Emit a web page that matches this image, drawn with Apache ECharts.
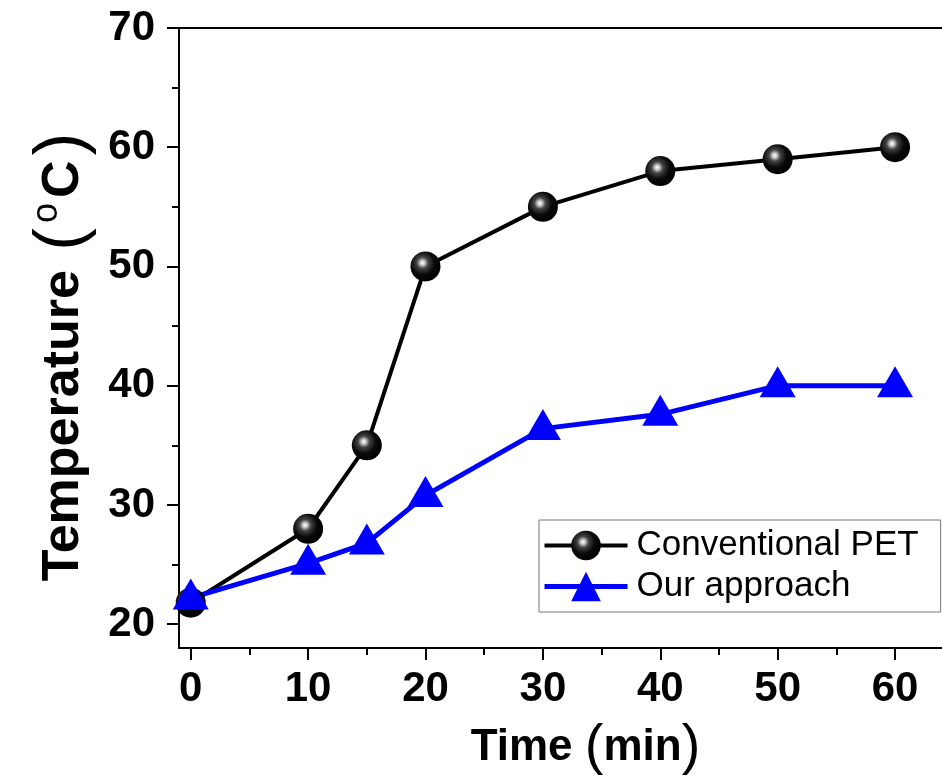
<!DOCTYPE html>
<html>
<head>
<meta charset="utf-8">
<script src="https://cdn.jsdelivr.net/npm/echarts@6/dist/echarts.min.js"></script>
<style>
  html, body { margin: 0; padding: 0; background: #fff; }
  #chart { width: 942px; height: 781px; }
</style>
</head>
<body>
<div id="chart"></div>
<script>
// data
const timeMin = [0, 10, 15, 20, 30, 40, 50, 60];
const conventionalPet = [21.8, 28, 35, 50, 55, 58, 59, 60];
const ourApproach = [22.2, 25.1, 26.8, 30.8, 36.4, 37.6, 40, 40];
const xMajorTicks = [0, 10, 20, 30, 40, 50, 60];
const xMinorTicks = [5, 15, 25, 35, 45, 55];
const yMajorTicks = [20, 30, 40, 50, 60, 70];
const yMinorTicks = [25, 35, 45, 55, 65];

const FONT = "'Liberation Sans', Arial, sans-serif";

function pairs(xs, ys) {
  return xs.map(function (x, i) { return [x, ys[i]]; });
}

// black sphere look of the marker
const sphere = {
  type: 'radial', x: 0.4, y: 0.38, r: 0.6,
  colorStops: [
    { offset: 0, color: '#ffffff' },
    { offset: 0.12, color: '#cfcfcf' },
    { offset: 0.32, color: '#444' },
    { offset: 0.65, color: '#0a0a0a' },
    { offset: 1, color: '#000' }
  ]
};

const chart = echarts.init(document.getElementById('chart'));

const axisLine = { show: true, onZero: false, lineStyle: { color: '#000', width: 2 } };
const tickLabel = { color: '#000', fontFamily: FONT, fontWeight: 'bold', fontSize: 42 };

chart.setOption({
  animation: false,
  backgroundColor: '#fff',
  grid: { left: 179, top: 28, right: 0, bottom: 132 },
  legend: {
    orient: 'vertical',
    left: 539,
    top: 520,
    padding: [8, 22, 8, 3],
    itemWidth: 83,
    itemHeight: 37,
    itemGap: 6,
    borderColor: '#777',
    borderWidth: 1,
    textStyle: { fontFamily: FONT, fontSize: 35, color: '#000', padding: [0, 0, 0, 4] },
    data: [
      { name: 'Conventional PET', lineStyle: { width: 4, color: '#000' } },
      { name: 'Our approach', lineStyle: { width: 5, color: '#0000ff' } }
    ]
  },
  xAxis: [
    {
      type: 'value', min: -1, max: 64, position: 'bottom',
      axisLine: axisLine,
      axisTick: { show: true, inside: false, length: 12, customValues: xMajorTicks, lineStyle: { color: '#000', width: 2 } },
      axisLabel: Object.assign({ margin: 20, customValues: xMajorTicks }, tickLabel),
      splitLine: { show: false },
      name: '{t|Time }{p|(}{t|min}{p|)}',
      nameLocation: 'middle',
      nameGap: 72,
      nameTextStyle: {
        padding: [0, 0, 0, 50],
        rich: {
          t: { fontFamily: FONT, fontWeight: 'bold', fontSize: 44, color: '#000' },
          p: { fontFamily: FONT, fontWeight: 'normal', fontSize: 56, color: '#000' }
        }
      }
    },
    {
      type: 'value', min: -1, max: 64, position: 'bottom',
      axisLine: { show: false },
      axisTick: { show: true, inside: false, length: 7, customValues: xMinorTicks, lineStyle: { color: '#000', width: 2 } },
      axisLabel: { show: false },
      splitLine: { show: false }
    },
    {
      type: 'value', min: -1, max: 64, position: 'top',
      axisLine: axisLine,
      axisTick: { show: false },
      axisLabel: { show: false },
      splitLine: { show: false }
    }
  ],
  yAxis: [
    {
      type: 'value', min: 18, max: 70, position: 'left',
      axisLine: axisLine,
      axisTick: { show: true, inside: false, length: 12, customValues: yMajorTicks, lineStyle: { color: '#000', width: 2 } },
      axisLabel: Object.assign({ margin: 24, customValues: yMajorTicks }, tickLabel),
      splitLine: { show: false },
      name: '{b|Temperature }{p|(}{o|o}{b|C}{p|)}',
      nameLocation: 'middle',
      nameRotate: 90,
      nameGap: 72,
      nameTextStyle: {
        padding: [0, 33, 0, 0],
        rich: {
          b: { fontFamily: FONT, fontWeight: 'bold', fontSize: 52, color: '#000' },
          p: { fontFamily: FONT, fontWeight: 'normal', fontSize: 68, color: '#000', padding: [0, 5, 0, 5] },
          o: { fontFamily: FONT, fontWeight: 'normal', fontSize: 36, color: '#000', verticalAlign: 'top', padding: [0, 5, 14, 0] }
        }
      }
    },
    {
      type: 'value', min: 18, max: 70, position: 'left',
      axisLine: { show: false, onZero: false },
      axisTick: { show: true, inside: false, length: 7, customValues: yMinorTicks, lineStyle: { color: '#000', width: 2 } },
      axisLabel: { show: false },
      splitLine: { show: false }
    }
  ],
  series: [
    {
      name: 'Conventional PET',
      type: 'line',
      xAxisIndex: 0,
      yAxisIndex: 0,
      data: pairs(timeMin, conventionalPet),
      symbol: 'circle',
      symbolSize: 30,
      showAllSymbol: true,
      itemStyle: { color: sphere, borderWidth: 0 },
      lineStyle: { color: '#000', width: 4 }
    },
    {
      name: 'Our approach',
      type: 'line',
      xAxisIndex: 0,
      yAxisIndex: 0,
      data: pairs(timeMin, ourApproach),
      symbol: 'triangle',
      symbolSize: [36, 31],
      symbolOffset: [0, -4],
      showAllSymbol: true,
      itemStyle: { color: '#0000ff', borderWidth: 0 },
      lineStyle: { color: '#0000ff', width: 5 }
    }
  ]
});
</script>
</body>
</html>
